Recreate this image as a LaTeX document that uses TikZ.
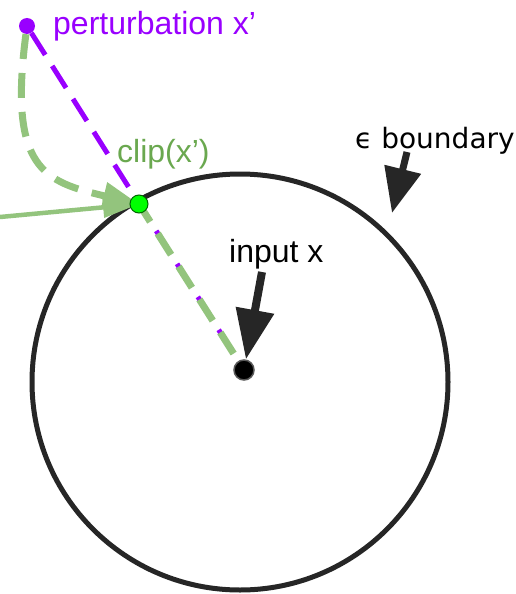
\documentclass[tikz,border=0pt]{standalone}
\usepackage{fontspec}
\setmainfont{Liberation Sans}
\newfontfamily\dejavu{DejaVu Sans}
\usetikzlibrary{arrows.meta}
\definecolor{pur}{HTML}{9900FF}
\definecolor{lgreen}{HTML}{93C47D}
\definecolor{dgreen}{HTML}{6AA84F}
\definecolor{brightgreen}{HTML}{00FF00}
\definecolor{ink}{HTML}{262626}
\tikzset{
  lbl/.style={anchor=base west, inner sep=0pt, font=\fontsize{32}{38}\selectfont},
  purline/.style={draw=pur, line width=5pt, dash pattern=on 26pt off 13pt},
  greendash/.style={draw=lgreen, line width=7pt, dash pattern=on 25pt off 14pt},
  greenline/.style={draw=lgreen, line width=4.5pt},
  bigarrow/.style={draw=ink, fill=ink, line width=8pt, -{Triangle[length=50pt,width=37pt]}},
}
\begin{document}
\begin{tikzpicture}[x=1pt,y=-1pt]
\useasboundingbox (0,0) rectangle (516,594);
% boundary circle
\node[circle, draw=ink, line width=5pt, minimum size=416pt, inner sep=0pt] (B) at (240,382) {};
% points
\node[circle, fill=pur, inner sep=0pt, minimum size=16pt] (P) at (27,26) {};
\node[circle, fill=black, draw=black!65, line width=1.5pt, inner sep=0pt, minimum size=20pt] (X) at (244,370) {};
\coordinate (Cc) at (139,204);
% dashed lines
\draw[purline] (P) -- (X);
\draw[greendash, dash phase=4pt] (Cc) -- (X);
\coordinate (L) at (0,217);
\draw[greenline, -{Triangle[length=36pt,width=20pt]}] (L) -- (Cc);
\draw[greendash, -{Triangle[length=36pt,width=26pt]}] (P) .. controls (8,170) and (45,182) .. (Cc);
\node[circle, fill=brightgreen, draw=green!40!black, line width=1pt, inner sep=0pt, minimum size=18pt] (C) at (Cc) {};
% black arrows
\coordinate (ia) at (262,272);
\draw[bigarrow] (ia) -- (X);
\coordinate (ba) at (407,152);
\coordinate (bt) at (392,213);
\draw[draw=ink, line width=7pt, -{Triangle[length=45pt,width=36pt]}] (ba) -- (bt);
% labels
\node[lbl, text=pur] (tp) at (53,35) {perturbation x’};
\node[lbl, text=dgreen] (tc) at (117,162) {clip(x’)};
\node[lbl, text=black] (ti) at (229,262) {input x};
\node[anchor=base west, inner sep=0pt, font=\dejavu\fontsize{28}{34}\selectfont] (tb) at (355,148) {ϵ boundary};
\end{tikzpicture}
\end{document}
